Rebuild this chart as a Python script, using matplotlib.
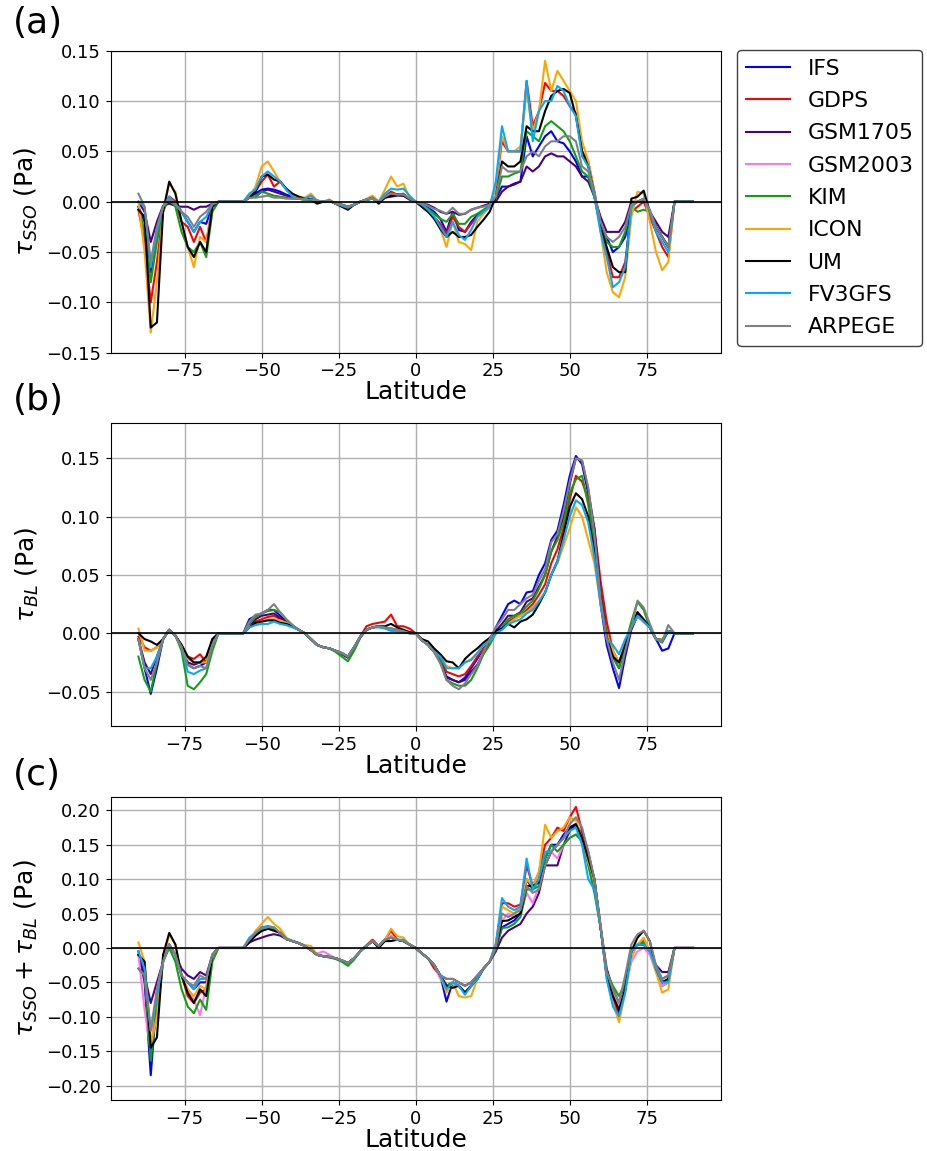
import numpy as np
import matplotlib
matplotlib.use("Agg")
import matplotlib.pyplot as plt

# ---------------- data ----------------
lat = np.arange(-90, 91, 2)  # -90 ... 90, step 2 degrees

models = ["IFS", "GDPS", "GSM1705", "GSM2003", "KIM", "ICON", "UM", "FV3GFS", "ARPEGE"]
colors = ["#0000ff", "#ff0000", "#4b0082", "#ff77ee", "#10a010",
          "#ffa500", "#000000", "#00aaff", "#808080"]

# Panel (a): tau_SSO  (sections: -90..-66 | -64..-56 | -54..24 | 26..82 | 84..90)
sso_ifs = [-0.005, -0.02, -0.07, -0.03, -0.005, 0.005, 0.0, -0.01, -0.02, -0.03, -0.02, -0.022, -0.004,
           0, 0, 0, 0, 0,
           0.005, 0.008, 0.012, 0.013, 0.012, 0.01, 0.007, 0.005, 0.003, 0.003,
           0.002, 0.001, 0.0, 0.001, -0.002, -0.003, -0.005, -0.003, 0.0, 0.002,
           0.003, 0.0, 0.005, 0.008, 0.007, 0.007, 0.003, 0.0, -0.003, -0.006,
           -0.01, -0.017, -0.03, -0.01, -0.028, -0.03, -0.02, -0.013, -0.01, -0.005,
           0.003, 0.015, 0.015, 0.018, 0.02, 0.065, 0.045, 0.055, 0.065, 0.07,
           0.06, 0.058, 0.05, 0.04, 0.025, 0.025, 0.005, -0.025, -0.035, -0.05,
           -0.045, -0.035, -0.005, 0.0, 0.003, -0.01, -0.025, -0.035, -0.045,
           0, 0, 0, 0]
sso_gdps = [-0.008, -0.04, -0.1, -0.06, -0.01, 0.005, 0.0, -0.02, -0.025, -0.04, -0.025, -0.04, -0.005,
            0, 0, 0, 0, 0,
            0.005, 0.01, 0.02, 0.027, 0.015, 0.02, 0.012, 0.006, 0.004, 0.003,
            0.003, 0.001, 0.0, 0.002, -0.002, -0.004, -0.006, -0.003, 0.0, 0.002,
            0.004, 0.0, 0.005, 0.01, 0.007, 0.008, 0.003, 0.0, -0.005, -0.01,
            -0.015, -0.022, -0.032, -0.015, -0.025, -0.03, -0.022, -0.015, -0.01, -0.005,
            0.015, 0.06, 0.05, 0.05, 0.05, 0.12, 0.075, 0.09, 0.118, 0.11,
            0.11, 0.105, 0.095, 0.088, 0.05, 0.04, 0.01, -0.025, -0.05, -0.075,
            -0.075, -0.06, -0.01, -0.005, 0.0, -0.015, -0.03, -0.045, -0.055,
            0, 0, 0, 0]
sso_gsm1705 = [0.0, -0.01, -0.04, -0.02, -0.004, -0.002, -0.004, -0.005, -0.005, -0.008, -0.005, -0.005, -0.002,
               0, 0, 0, 0, 0,
               0.004, 0.005, 0.01, 0.012, 0.01, 0.008, 0.006, 0.004, 0.003, 0.002,
               0.002, 0.001, 0.0, 0.001, -0.002, -0.003, -0.005, -0.003, 0.0, 0.002,
               0.003, 0.0, 0.004, 0.005, 0.006, 0.006, 0.002, 0.0, -0.002, -0.003,
               -0.006, -0.01, -0.012, -0.01, -0.013, -0.012, -0.008, -0.006, -0.004, -0.002,
               0.0, 0.01, 0.015, 0.017, 0.02, 0.035, 0.03, 0.035, 0.045, 0.048,
               0.045, 0.045, 0.04, 0.035, 0.025, 0.02, 0.005, -0.015, -0.03, -0.03,
               -0.03, -0.02, 0.0, 0.0, 0.002, -0.01, -0.02, -0.03, -0.035,
               0, 0, 0, 0]
sso_kim = [-0.005, -0.03, -0.08, -0.04, -0.008, 0.003, -0.005, -0.03, -0.045, -0.05, -0.04, -0.055, -0.01,
           0, 0, 0, 0, 0,
           0.004, 0.005, 0.01, 0.008, 0.006, 0.005, 0.004, 0.003, 0.003, 0.002,
           0.002, 0.001, 0.0, 0.001, -0.002, -0.003, -0.005, -0.003, 0.0, 0.002,
           0.003, 0.0, 0.005, 0.008, 0.007, 0.007, 0.003, 0.0, -0.003, -0.007,
           -0.012, -0.017, -0.02, -0.012, -0.022, -0.022, -0.015, -0.012, -0.008, -0.004,
           0.003, 0.025, 0.025, 0.028, 0.03, 0.07, 0.065, 0.06, 0.075, 0.08,
           0.075, 0.07, 0.06, 0.045, 0.03, 0.025, 0.005, -0.025, -0.04, -0.045,
           -0.045, -0.03, -0.005, -0.01, -0.008, -0.01, -0.025, -0.035, -0.045,
           0, 0, 0, 0]
sso_icon = [0.0, -0.05, -0.13, -0.08, -0.01, 0.018, 0.01, -0.02, -0.045, -0.065, -0.035, -0.04, -0.005,
            0, 0, 0, 0, 0,
            0.005, 0.015, 0.035, 0.04, 0.03, 0.02, 0.012, 0.006, 0.005, 0.004,
            0.008, 0.001, 0.0, 0.002, -0.002, -0.004, -0.006, -0.003, 0.0, 0.003,
            0.006, 0.0, 0.012, 0.025, 0.015, 0.018, 0.004, 0.0, -0.004, -0.01,
            -0.015, -0.027, -0.045, -0.02, -0.04, -0.042, -0.048, -0.02, -0.012, -0.005,
            0.015, 0.065, 0.05, 0.05, 0.055, 0.11, 0.07, 0.09, 0.14, 0.11,
            0.13, 0.12, 0.11, 0.1, 0.06, 0.04, 0.01, -0.03, -0.07, -0.09,
            -0.095, -0.075, -0.015, 0.01, 0.008, -0.02, -0.05, -0.068, -0.06,
            0, 0, 0, 0]
sso_um = [-0.008, -0.015, -0.125, -0.12, -0.01, 0.02, 0.008, -0.02, -0.045, -0.055, -0.04, -0.05, -0.005,
          0, 0, 0, 0, 0,
          0.004, 0.01, 0.025, 0.027, 0.022, 0.02, 0.013, 0.008, 0.005, 0.003,
          0.002, -0.002, 0.0, 0.001, -0.002, -0.005, -0.008, -0.003, 0.0, 0.002,
          0.004, -0.002, 0.004, 0.006, 0.007, 0.006, 0.003, 0.0, -0.005, -0.01,
          -0.017, -0.027, -0.035, -0.03, -0.035, -0.035, -0.033, -0.025, -0.018, -0.01,
          0.005, 0.04, 0.035, 0.035, 0.04, 0.075, 0.07, 0.07, 0.09, 0.105,
          0.11, 0.112, 0.108, 0.085, 0.05, 0.035, 0.008, -0.025, -0.045, -0.065,
          -0.07, -0.07, 0.003, 0.005, 0.011, -0.01, -0.025, -0.035, -0.045,
          0, 0, 0, 0]
sso_fv3gfs = [0.0, -0.005, -0.065, -0.03, -0.005, 0.005, -0.002, -0.01, -0.02, -0.03, -0.02, -0.015, -0.003,
              0, 0, 0, 0, 0,
              0.008, 0.012, 0.025, 0.03, 0.025, 0.02, 0.012, 0.005, 0.003, 0.003,
              0.006, 0.001, 0.0, 0.001, -0.002, -0.004, -0.006, -0.003, 0.0, 0.002,
              0.004, 0.0, 0.008, 0.013, 0.012, 0.013, 0.006, 0.0, -0.003, -0.008,
              -0.015, -0.025, -0.035, -0.02, -0.033, -0.038, -0.028, -0.015, -0.01, -0.005,
              0.02, 0.075, 0.05, 0.05, 0.05, 0.12, 0.06, 0.09, 0.1, 0.1,
              0.115, 0.11, 0.095, 0.085, 0.045, 0.035, 0.005, -0.03, -0.055, -0.085,
              -0.08, -0.065, -0.005, 0.0, 0.003, -0.01, -0.03, -0.04, -0.05,
              0, 0, 0, 0]
sso_arpege = [0.008, -0.005, -0.06, -0.025, -0.005, 0.003, -0.003, -0.01, -0.015, -0.025, -0.015, -0.01, -0.002,
              0, 0, 0, 0, 0,
              0.004, 0.004, 0.005, 0.006, 0.004, 0.004, 0.003, 0.003, 0.003, 0.002,
              0.002, 0.001, 0.0, 0.001, -0.002, -0.003, -0.005, -0.003, 0.0, 0.002,
              0.003, 0.0, 0.005, 0.008, 0.007, 0.007, 0.003, 0.0, -0.002, -0.004,
              -0.007, -0.009, -0.012, -0.006, -0.012, -0.012, -0.008, -0.006, -0.005, -0.003,
              0.005, 0.035, 0.03, 0.03, 0.03, 0.045, 0.05, 0.045, 0.055, 0.06,
              0.06, 0.065, 0.065, 0.06, 0.035, 0.03, 0.01, -0.02, -0.035, -0.04,
              -0.035, -0.025, -0.003, 0.0, 0.003, -0.008, -0.025, -0.035, -0.045,
              0, 0, 0, 0]

# Panel (b): tau_BL
bl_ifs = [-0.005, -0.03, -0.052, -0.03, -0.005, 0.003, -0.002, -0.012, -0.027, -0.03, -0.028, -0.025, -0.01,
          0, 0, 0, 0, 0,
          0.012, 0.015, 0.017, 0.02, 0.02, 0.015, 0.01, 0.006, 0.003, 0.0,
          -0.005, -0.01, -0.012, -0.013, -0.015, -0.017, -0.02, -0.012, -0.003, 0.003,
          0.005, 0.006, 0.005, 0.004, 0.003, 0.002, 0.0, 0.0, -0.006, -0.01,
          -0.016, -0.025, -0.037, -0.04, -0.042, -0.038, -0.03, -0.022, -0.013, -0.007,
          0.005, 0.015, 0.025, 0.028, 0.025, 0.035, 0.036, 0.05, 0.06, 0.08,
          0.088, 0.11, 0.135, 0.152, 0.145, 0.12, 0.08, 0.025, -0.01, -0.03,
          -0.047, -0.02, 0.003, 0.015, 0.01, 0.005, -0.005, -0.015, -0.013,
          0, 0, 0, 0]
bl_gdps = [-0.003, -0.012, -0.015, -0.012, -0.005, 0.003, -0.002, -0.01, -0.02, -0.022, -0.018, -0.025, -0.005,
           0, 0, 0, 0, 0,
           0.006, 0.01, 0.012, 0.014, 0.015, 0.012, 0.01, 0.006, 0.003, 0.0,
           -0.005, -0.01, -0.012, -0.013, -0.015, -0.017, -0.02, -0.012, -0.003, 0.006,
           0.008, 0.009, 0.01, 0.016, 0.006, 0.006, 0.004, 0.0, -0.006, -0.01,
           -0.016, -0.022, -0.033, -0.035, -0.037, -0.035, -0.028, -0.02, -0.013, -0.007,
           0.0, 0.004, 0.01, 0.013, 0.015, 0.02, 0.025, 0.033, 0.042, 0.06,
           0.072, 0.09, 0.115, 0.135, 0.13, 0.115, 0.09, 0.045, 0.01, -0.015,
           -0.025, -0.01, 0.005, 0.015, 0.01, 0.005, -0.005, -0.006, 0.002,
           0, 0, 0, 0]
bl_gsm1705 = [-0.005, -0.025, -0.035, -0.02, -0.005, 0.003, -0.002, -0.012, -0.025, -0.027, -0.025, -0.025, -0.01,
              0, 0, 0, 0, 0,
              0.006, 0.012, 0.015, 0.016, 0.017, 0.013, 0.01, 0.006, 0.003, 0.0,
              -0.005, -0.01, -0.012, -0.013, -0.015, -0.018, -0.021, -0.013, -0.003, 0.003,
              0.005, 0.006, 0.005, 0.004, 0.003, 0.002, 0.0, 0.0, -0.006, -0.01,
              -0.016, -0.024, -0.038, -0.04, -0.042, -0.04, -0.033, -0.027, -0.017, -0.007,
              0.002, 0.008, 0.015, 0.015, 0.018, 0.027, 0.03, 0.04, 0.05, 0.07,
              0.083, 0.1, 0.128, 0.15, 0.148, 0.123, 0.09, 0.035, 0.0, -0.02,
              -0.03, -0.01, 0.005, 0.018, 0.01, 0.005, -0.005, -0.007, 0.002,
              0, 0, 0, 0]
bl_kim = [-0.02, -0.04, -0.05, -0.025, -0.005, 0.003, -0.002, -0.015, -0.045, -0.048, -0.042, -0.035, -0.015,
          0, 0, 0, 0, 0,
          0.008, 0.014, 0.017, 0.019, 0.02, 0.018, 0.012, 0.007, 0.003, 0.0,
          -0.005, -0.01, -0.012, -0.013, -0.016, -0.02, -0.024, -0.015, -0.004, 0.003,
          0.005, 0.006, 0.005, 0.004, 0.003, 0.002, 0.0, 0.0, -0.006, -0.01,
          -0.016, -0.024, -0.04, -0.043, -0.045, -0.045, -0.04, -0.03, -0.018, -0.01,
          0.0, 0.005, 0.012, 0.015, 0.017, 0.023, 0.028, 0.038, 0.05, 0.07,
          0.08, 0.095, 0.12, 0.132, 0.135, 0.11, 0.075, 0.03, 0.0, -0.02,
          -0.03, -0.01, 0.01, 0.027, 0.02, 0.005, -0.005, -0.008, 0.002,
          0, 0, 0, 0]
bl_icon = [0.004, -0.015, -0.015, -0.012, -0.005, 0.003, -0.002, -0.012, -0.022, -0.025, -0.025, -0.025, -0.01,
           0, 0, 0, 0, 0,
           0.006, 0.008, 0.01, 0.012, 0.012, 0.011, 0.009, 0.006, 0.003, 0.0,
           -0.005, -0.01, -0.012, -0.013, -0.015, -0.017, -0.02, -0.012, -0.003, 0.003,
           0.005, 0.006, 0.005, 0.004, 0.003, 0.002, 0.0, 0.0, -0.006, -0.01,
           -0.016, -0.02, -0.028, -0.03, -0.03, -0.025, -0.022, -0.017, -0.01, -0.007,
           0.0, 0.003, 0.008, 0.012, 0.015, 0.018, 0.022, 0.028, 0.035, 0.05,
           0.06, 0.075, 0.09, 0.108, 0.1, 0.08, 0.06, 0.025, 0.0, -0.015,
           -0.025, -0.008, 0.005, 0.015, 0.01, 0.005, -0.005, -0.005, 0.002,
           0, 0, 0, 0]
bl_um = [0.0, -0.005, -0.007, -0.01, -0.005, 0.003, -0.002, -0.01, -0.02, -0.025, -0.025, -0.02, -0.005,
         0, 0, 0, 0, 0,
         0.005, 0.009, 0.01, 0.011, 0.011, 0.009, 0.008, 0.006, 0.003, 0.0,
         -0.005, -0.01, -0.012, -0.013, -0.015, -0.017, -0.02, -0.012, -0.003, 0.003,
         0.005, 0.006, 0.006, 0.008, 0.005, 0.003, 0.001, 0.0, -0.005, -0.007,
         -0.013, -0.018, -0.024, -0.025, -0.03, -0.022, -0.017, -0.013, -0.008, -0.004,
         0.002, 0.004, 0.008, 0.005, 0.01, 0.012, 0.016, 0.025, 0.035, 0.05,
         0.062, 0.085, 0.108, 0.12, 0.115, 0.1, 0.07, 0.03, -0.003, -0.02,
         -0.025, -0.01, 0.005, 0.018, 0.012, 0.005, -0.005, -0.006, 0.002,
         0, 0, 0, 0]
bl_fv3gfs = [-0.005, -0.03, -0.03, -0.02, -0.005, 0.003, -0.002, -0.012, -0.033, -0.035, -0.032, -0.03, -0.01,
             0, 0, 0, 0, 0,
             0.005, 0.007, 0.008, 0.008, 0.01, 0.008, 0.007, 0.005, 0.003, 0.0,
             -0.005, -0.01, -0.012, -0.013, -0.015, -0.017, -0.02, -0.012, -0.003, 0.003,
             0.005, 0.005, 0.004, 0.002, 0.002, 0.001, 0.0, 0.0, -0.006, -0.01,
             -0.016, -0.02, -0.03, -0.03, -0.03, -0.025, -0.023, -0.017, -0.01, -0.007,
             0.0, 0.003, 0.008, 0.01, 0.012, 0.017, 0.02, 0.027, 0.035, 0.05,
             0.062, 0.08, 0.1, 0.114, 0.11, 0.095, 0.065, 0.025, -0.005, -0.01,
             -0.018, -0.005, 0.005, 0.015, 0.01, 0.005, -0.005, -0.006, 0.002,
             0, 0, 0, 0]
bl_arpege = [-0.005, -0.03, -0.04, -0.025, -0.005, 0.003, -0.002, -0.012, -0.027, -0.03, -0.028, -0.03, -0.01,
             0, 0, 0, 0, 0,
             0.01, 0.016, 0.017, 0.02, 0.025, 0.018, 0.012, 0.007, 0.003, 0.0,
             -0.005, -0.01, -0.012, -0.013, -0.015, -0.017, -0.02, -0.012, -0.003, 0.003,
             0.005, 0.006, 0.005, 0.004, 0.003, 0.002, 0.0, 0.0, -0.006, -0.01,
             -0.016, -0.026, -0.04, -0.045, -0.048, -0.043, -0.035, -0.028, -0.016, -0.005,
             0.005, 0.012, 0.02, 0.02, 0.025, 0.03, 0.033, 0.045, 0.055, 0.078,
             0.085, 0.105, 0.13, 0.15, 0.148, 0.125, 0.085, 0.03, -0.005, -0.025,
             -0.04, -0.015, 0.005, 0.028, 0.022, 0.008, -0.005, -0.007, 0.007,
             0, 0, 0, 0]

# Panel (c): tau_SSO + tau_BL
tot_ifs = [-0.005, -0.05, -0.185, -0.07, -0.02, 0.005, -0.01, -0.04, -0.05, -0.06, -0.05, -0.05, -0.01,
           0, 0, 0, 0, 0,
           0.012, 0.02, 0.025, 0.028, 0.027, 0.022, 0.013, 0.01, 0.007, 0.003,
           -0.003, -0.01, -0.012, -0.013, -0.015, -0.018, -0.022, -0.015, -0.005, 0.003,
           0.01, 0.003, 0.012, 0.015, 0.012, 0.01, 0.005, 0.0, -0.008, -0.015,
           -0.025, -0.04, -0.078, -0.05, -0.055, -0.065, -0.055, -0.045, -0.03, -0.02,
           0.0, 0.03, 0.035, 0.04, 0.05, 0.1, 0.085, 0.1, 0.13, 0.15,
           0.15, 0.165, 0.175, 0.18, 0.16, 0.13, 0.09, 0.03, -0.04, -0.07,
           -0.095, -0.06, -0.005, 0.005, 0.005, -0.005, -0.03, -0.055, -0.05,
           0, 0, 0, 0]
tot_gdps = [-0.01, -0.04, -0.14, -0.1, -0.02, 0.005, -0.01, -0.04, -0.07, -0.08, -0.065, -0.06, -0.01,
            0, 0, 0, 0, 0,
            0.01, 0.02, 0.03, 0.03, 0.028, 0.022, 0.013, 0.01, 0.007, 0.003,
            -0.003, -0.01, -0.012, -0.013, -0.015, -0.018, -0.022, -0.015, -0.005, 0.004,
            0.012, 0.003, 0.012, 0.025, 0.012, 0.01, 0.005, 0.0, -0.008, -0.015,
            -0.03, -0.04, -0.055, -0.05, -0.055, -0.065, -0.055, -0.045, -0.03, -0.02,
            0.005, 0.065, 0.065, 0.06, 0.063, 0.12, 0.09, 0.11, 0.15, 0.16,
            0.175, 0.17, 0.19, 0.205, 0.17, 0.14, 0.1, 0.03, -0.04, -0.075,
            -0.1, -0.06, -0.005, 0.005, 0.01, -0.005, -0.03, -0.05, -0.045,
            0, 0, 0, 0]
tot_gsm1705 = [-0.01, -0.04, -0.08, -0.05, -0.02, 0.005, -0.01, -0.03, -0.04, -0.045, -0.035, -0.04, -0.01,
               0, 0, 0, 0, 0,
               0.008, 0.012, 0.015, 0.018, 0.02, 0.018, 0.013, 0.01, 0.007, 0.003,
               -0.003, -0.01, -0.012, -0.013, -0.015, -0.018, -0.022, -0.015, -0.005, 0.003,
               0.01, 0.003, 0.012, 0.015, 0.012, 0.01, 0.005, 0.0, -0.008, -0.015,
               -0.025, -0.04, -0.045, -0.045, -0.05, -0.055, -0.05, -0.04, -0.03, -0.02,
               -0.005, 0.015, 0.025, 0.03, 0.035, 0.05, 0.06, 0.08, 0.12, 0.12,
               0.12, 0.15, 0.17, 0.18, 0.165, 0.13, 0.1, 0.03, -0.03, -0.06,
               -0.08, -0.05, -0.005, 0.005, 0.005, -0.005, -0.025, -0.035, -0.035,
               0, 0, 0, 0]
tot_gsm2003 = [-0.01, -0.09, -0.15, -0.06, -0.02, 0.005, -0.01, -0.04, -0.06, -0.075, -0.098, -0.055, -0.01,
               0, 0, 0, 0, 0,
               0.01, 0.02, 0.028, 0.03, 0.028, 0.022, 0.013, 0.01, 0.007, 0.003,
               -0.003, -0.008, -0.005, -0.01, -0.015, -0.018, -0.022, -0.015, -0.005, 0.003,
               0.01, 0.003, 0.012, 0.018, 0.012, 0.01, 0.005, 0.0, -0.008, -0.015,
               -0.025, -0.045, -0.055, -0.05, -0.055, -0.065, -0.055, -0.045, -0.03, -0.02,
               0.0, 0.04, 0.05, 0.045, 0.05, 0.08, 0.065, 0.09, 0.12, 0.14,
               0.13, 0.15, 0.16, 0.165, 0.155, 0.125, 0.09, 0.03, -0.04, -0.065,
               -0.085, -0.06, -0.02, -0.005, 0.0, -0.01, -0.035, -0.055, -0.05,
               0, 0, 0, 0]
tot_kim = [-0.03, -0.04, -0.164, -0.08, -0.02, 0.0, -0.02, -0.06, -0.085, -0.095, -0.075, -0.09, -0.02,
           0, 0, 0, 0, 0,
           0.01, 0.018, 0.025, 0.028, 0.027, 0.022, 0.013, 0.01, 0.007, 0.003,
           -0.003, -0.01, -0.012, -0.014, -0.016, -0.02, -0.026, -0.017, -0.005, 0.003,
           0.01, 0.003, 0.012, 0.015, 0.012, 0.01, 0.005, 0.0, -0.008, -0.015,
           -0.025, -0.04, -0.055, -0.05, -0.055, -0.065, -0.055, -0.045, -0.03, -0.02,
           -0.002, 0.029, 0.03, 0.035, 0.045, 0.085, 0.085, 0.09, 0.13, 0.15,
           0.14, 0.15, 0.16, 0.165, 0.155, 0.12, 0.08, 0.03, -0.035, -0.055,
           -0.07, -0.05, -0.005, 0.005, 0.01, -0.005, -0.03, -0.045, -0.04,
           0, 0, 0, 0]
tot_icon = [0.008, -0.02, -0.14, -0.1, -0.02, 0.02, 0.005, -0.04, -0.06, -0.07, -0.055, -0.06, -0.01,
            0, 0, 0, 0, 0,
            0.01, 0.025, 0.035, 0.045, 0.035, 0.028, 0.015, 0.01, 0.007, 0.004,
            0.003, -0.01, -0.012, -0.013, -0.015, -0.018, -0.022, -0.015, -0.005, 0.003,
            0.01, 0.003, 0.012, 0.028, 0.017, 0.015, 0.005, 0.0, -0.008, -0.015,
            -0.025, -0.04, -0.065, -0.05, -0.07, -0.072, -0.07, -0.045, -0.03, -0.02,
            0.005, 0.06, 0.055, 0.05, 0.06, 0.1, 0.09, 0.11, 0.179, 0.16,
            0.17, 0.175, 0.19, 0.185, 0.16, 0.125, 0.1, 0.03, -0.045, -0.08,
            -0.108, -0.065, -0.015, 0.005, 0.015, -0.005, -0.035, -0.065, -0.06,
            0, 0, 0, 0]
tot_um = [-0.01, -0.02, -0.145, -0.13, -0.01, 0.022, 0.005, -0.04, -0.065, -0.08, -0.06, -0.07, -0.01,
          0, 0, 0, 0, 0,
          0.008, 0.018, 0.025, 0.028, 0.025, 0.022, 0.013, 0.01, 0.007, 0.003,
          -0.003, -0.01, -0.012, -0.013, -0.015, -0.018, -0.022, -0.015, -0.005, 0.003,
          0.01, 0.0, 0.01, 0.01, 0.012, 0.01, 0.005, 0.0, -0.008, -0.015,
          -0.025, -0.04, -0.055, -0.058, -0.055, -0.065, -0.055, -0.045, -0.03, -0.02,
          0.0, 0.039, 0.04, 0.045, 0.05, 0.09, 0.09, 0.095, 0.12, 0.14,
          0.15, 0.16, 0.175, 0.18, 0.16, 0.13, 0.1, 0.03, -0.04, -0.07,
          -0.09, -0.06, -0.005, 0.015, 0.025, 0.01, -0.03, -0.05, -0.045,
          0, 0, 0, 0]
tot_fv3gfs = [-0.005, -0.03, -0.12, -0.07, -0.02, 0.005, -0.01, -0.04, -0.05, -0.06, -0.045, -0.045, -0.01,
              0, 0, 0, 0, 0,
              0.015, 0.022, 0.03, 0.032, 0.03, 0.022, 0.013, 0.01, 0.007, 0.003,
              -0.003, -0.01, -0.012, -0.013, -0.015, -0.018, -0.022, -0.015, -0.005, 0.003,
              0.01, 0.003, 0.012, 0.015, 0.012, 0.012, 0.005, 0.0, -0.008, -0.015,
              -0.025, -0.04, -0.06, -0.05, -0.055, -0.068, -0.055, -0.045, -0.03, -0.02,
              0.005, 0.0725, 0.06, 0.055, 0.06, 0.13, 0.085, 0.1, 0.14, 0.14,
              0.15, 0.16, 0.17, 0.175, 0.15, 0.1, 0.085, 0.03, -0.045, -0.085,
              -0.099, -0.065, -0.005, 0.005, 0.005, -0.005, -0.03, -0.05, -0.05,
              0, 0, 0, 0]
tot_arpege = [-0.03, -0.04, -0.12, -0.06, -0.02, 0.005, -0.01, -0.04, -0.05, -0.055, -0.04, -0.045, -0.01,
              0, 0, 0, 0, 0,
              0.012, 0.022, 0.028, 0.03, 0.03, 0.022, 0.013, 0.01, 0.007, 0.003,
              -0.003, -0.01, -0.012, -0.013, -0.015, -0.018, -0.022, -0.015, -0.005, 0.003,
              0.01, 0.003, 0.012, 0.015, 0.012, 0.01, 0.005, 0.0, -0.008, -0.015,
              -0.025, -0.04, -0.045, -0.045, -0.05, -0.055, -0.05, -0.04, -0.03, -0.02,
              0.0, 0.05, 0.045, 0.05, 0.055, 0.09, 0.08, 0.085, 0.12, 0.14,
              0.15, 0.16, 0.18, 0.19, 0.175, 0.14, 0.1, 0.035, -0.035, -0.06,
              -0.08, -0.04, 0.005, 0.02, 0.025, 0.01, -0.025, -0.045, -0.04,
              0, 0, 0, 0]

sso_series = [sso_ifs, sso_gdps, sso_gsm1705, None, sso_kim, sso_icon, sso_um, sso_fv3gfs, sso_arpege]
bl_series = [bl_ifs, bl_gdps, bl_gsm1705, None, bl_kim, bl_icon, bl_um, bl_fv3gfs, bl_arpege]
tot_series = [tot_ifs, tot_gdps, tot_gsm1705, tot_gsm2003, tot_kim, tot_icon, tot_um, tot_fv3gfs, tot_arpege]

# ---------------- plot ----------------
W, H = 927, 1151
fig = plt.figure(figsize=(W / 100, H / 100), dpi=100)


def ax_at(left, top, right, bottom):
    return fig.add_axes([left / W, 1 - bottom / H, (right - left) / W, (bottom - top) / H])


ax_a = ax_at(110.7, 50.7, 720.7, 352.7)
ax_b = ax_at(110.7, 423.3, 720.7, 726.0)
ax_c = ax_at(110.7, 797.3, 720.7, 1100.0)

panels = [
    (ax_a, sso_series, r"$\tau_{SSO}$ (Pa)", (-0.15, 0.15), np.arange(-0.15, 0.151, 0.05)),
    (ax_b, bl_series, r"$\tau_{BL}$ (Pa)", (-0.0795, 0.180), np.arange(-0.05, 0.151, 0.05)),
    (ax_c, tot_series, r"$\tau_{SSO} + \tau_{BL}$ (Pa)", (-0.221, 0.219), np.arange(-0.20, 0.201, 0.05)),
]


def fmt(v, pos):
    s = f"{v:.2f}"
    if s.startswith("-"):
        s = "\u2212" + s[1:]
    if s == "\u22120.00":
        s = "0.00"
    return s


legend_handles = []
for ax, series, ylab, ylim, yt in panels:
    ax.set_axisbelow(True)
    ax.grid(True, color="#b0b0b0", linewidth=1.0)
    for name, col, vals in zip(models, colors, series):
        if vals is None:
            continue
        if len(vals) != len(lat):
            raise ValueError(f"{ylab} {name}: {len(vals)} values")
        ln, = ax.plot(lat, vals, color=col, linewidth=1.5, label=name)
        if ax is ax_c:
            legend_handles.append(ln)
    ax.axhline(0, color="black", linewidth=1.2)
    ax.set_xlim(-99, 99)
    ax.set_ylim(*ylim)
    ax.set_xticks([-75, -50, -25, 0, 25, 50, 75])
    ax.set_yticks(yt)
    ax.yaxis.set_major_formatter(matplotlib.ticker.FuncFormatter(fmt))
    ax.tick_params(labelsize=13)
    ax.set_xlabel("Latitude", fontsize=18, labelpad=0)
    ax.set_ylabel(ylab, fontsize=18)

ax_a.legend(handles=legend_handles, labels=models, loc="upper left",
            bbox_to_anchor=(1.027, 1.002), borderaxespad=0, fontsize=15.8,
            edgecolor="0.25", framealpha=1, labelspacing=0.56)

fig.text(13 / W, 1 - 6 / H, "(a)", fontsize=26, va="top", ha="left")
fig.text(13 / W, 1 - 383 / H, "(b)", fontsize=26, va="top", ha="left")
fig.text(13 / W, 1 - 758 / H, "(c)", fontsize=26, va="top", ha="left")

fig.savefig("out.png", dpi=100)
